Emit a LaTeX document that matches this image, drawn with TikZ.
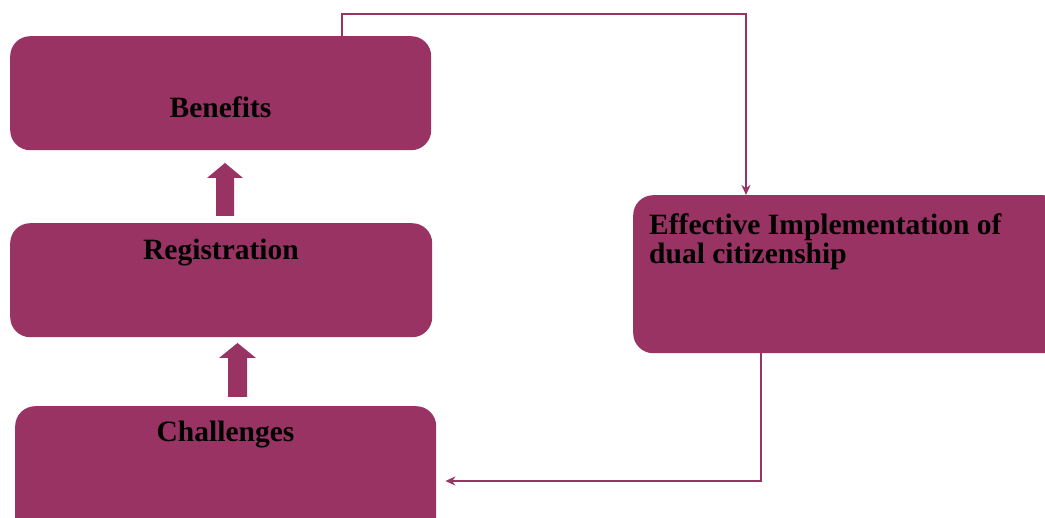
\documentclass[tikz,border=0pt]{standalone}
\usepackage{fontspec}
\setmainfont{Liberation Serif}
\usetikzlibrary{arrows.meta}
\definecolor{boxcol}{RGB}{153,51,100}
\tikzset{
  box/.style={fill=boxcol, draw=none, rounded corners=20pt, anchor=north west, inner sep=0pt},
  lbl/.style={font=\fontsize{29.5}{29}\selectfont\bfseries, text=black, inner sep=0pt},
  conn/.style={draw=boxcol, line width=2.8pt},
  blockarrow/.style={fill=boxcol, draw=none}
}
\begin{document}
\begin{tikzpicture}[x=1pt,y=-1pt]
\path[use as bounding box] (0,0) rectangle (1045,518);
\clip (0,0) rectangle (1045,518);
% boxes
\node[box, minimum width=421pt, minimum height=114pt] (ben) at (10,36) {};
\node[box, minimum width=422pt, minimum height=114pt] (reg) at (10,223) {};
\node[box, minimum width=421pt, minimum height=140pt] (cha) at (15,406) {};
\node[box, minimum width=430pt, minimum height=158pt] (eff) at (633,195) {};
% labels
\node[lbl, anchor=base] (tben) at (220.5,118) {Benefits};
\node[lbl, anchor=base] (treg) at (221,260) {Registration};
\node[lbl, anchor=base] (tcha) at (225.5,442) {Challenges};
\node[lbl, anchor=north west, align=left] (teff) at (649,213.5) {Effective Implementation of\\dual citizenship};
% block arrows
\fill[blockarrow] (216,216) -- (216,178) -- (207,178) -- (225,163) -- (243,178) -- (234,178) -- (234,216) -- cycle;
\fill[blockarrow] (228,397) -- (228,358) -- (219,358) -- (237.5,343) -- (256,358) -- (247,358) -- (247,397) -- cycle;
% connectors
\coordinate (c1) at (342,14);
\coordinate (c2) at (746,14);
\draw[conn, -{Stealth[length=10pt,width=9pt]}] (ben.north -| c1) -- (c1) -- (c2) -- (c2 |- eff.north);
\coordinate (c3) at (761,481);
\draw[conn, -{Stealth[length=10pt,width=9pt]}, shorten >=9pt] (eff.south -| c3) -- (c3) -- (cha.east |- c3);
\end{tikzpicture}
\end{document}
